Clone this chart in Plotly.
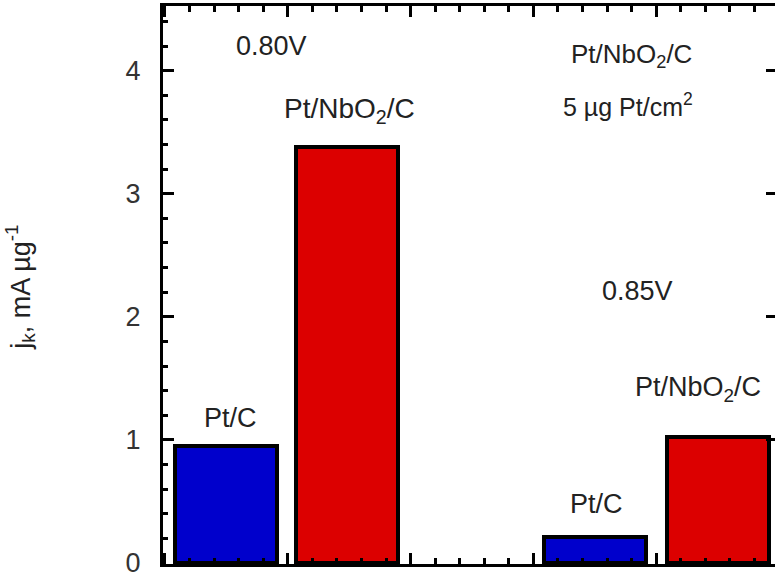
import plotly.graph_objects as go

# Data
bar_x = [0.5, 1.48, 3.5, 4.5]
bar_values = [0.95, 3.38, 0.21, 1.02]
bar_names = ["Pt/C (0.80V)", "Pt/NbO2/C (0.80V)", "Pt/C (0.85V)", "Pt/NbO2/C (0.85V)"]
bar_colors = ["#0000CC", "#DC0000", "#0000CC", "#DC0000"]
y_tick_vals = [0, 1, 2, 3, 4]
y_tick_text = ["0", "1", "2", "3", "4"]

labels_text = ["0.80V", "Pt/NbO<sub>2</sub>/C", "Pt/C", "Pt/NbO<sub>2</sub>/C",
               "5 µg Pt/cm<sup>2</sup>", "0.85V", "Pt/NbO<sub>2</sub>/C", "Pt/C"]
labels_x = [0.87, 1.50, 0.53, 3.80, 3.77, 3.85, 4.34, 3.51]
labels_y = [4.20, 3.68, 1.18, 4.12, 3.72, 2.21, 1.41, 0.48]
labels_size = [27, 28, 27, 26, 25, 27, 27, 27]

FONT = "Liberation Sans, Arial, sans-serif"
Y_RANGE = [-0.008, 4.525]

fig = go.Figure()
fig.add_trace(go.Bar(
    x=bar_x, y=bar_values, width=0.83, name="",
    marker=dict(color=bar_colors, line=dict(color="black", width=4)),
    hovertext=bar_names, showlegend=False,
))
# invisible trace to activate the right-hand tick axis
fig.add_trace(go.Scatter(x=[bar_x[0]], y=[bar_values[0]], yaxis="y2", mode="markers",
                         marker=dict(opacity=0), showlegend=False, hoverinfo="skip"))

L, R, T, B = 163, 0, 6, 12
W, H = 775, 578

minor_y = dict(ticks="inside", ticklen=5, tickwidth=3, tickcolor="black", dtick=0.2, tick0=0, showgrid=False)

fig.update_layout(
    width=W, height=H,
    margin=dict(l=L, r=R, t=T, b=B, pad=0),
    plot_bgcolor="white", paper_bgcolor="white",
    font=dict(family=FONT, color="#222"),
    bargap=0,
    xaxis=dict(
        range=[-0.016, 4.967], showgrid=False, zeroline=False,
        showline=True, linecolor="black", linewidth=3, mirror="ticks",
        ticks="inside", ticklen=11, tickwidth=3, tickcolor="black",
        tick0=0, dtick=1, showticklabels=False,
        minor=dict(ticks="inside", ticklen=6, tickwidth=3, tickcolor="black", dtick=0.2, tick0=0, showgrid=False),
    ),
    yaxis=dict(
        range=Y_RANGE, showgrid=False, zeroline=False,
        showline=True, linecolor="black", linewidth=3, mirror=False,
        ticks="inside", ticklen=11, tickwidth=3, tickcolor="black",
        tickvals=y_tick_vals, ticktext=y_tick_text,
        tickfont=dict(size=27, family=FONT, color="#333"),
        ticklabelstandoff=14, ticklabeloverflow="allow",
        minor=minor_y,
    ),
    yaxis2=dict(
        range=Y_RANGE, overlaying="y", side="right", showgrid=False, zeroline=False,
        showline=False, ticks="inside", ticklen=9, tickwidth=3, tickcolor="black",
        tickvals=y_tick_vals, showticklabels=False,
    ),
)

for t, x, y, s in zip(labels_text, labels_x, labels_y, labels_size):
    fig.add_annotation(x=x, y=y, xref="x", yref="y", text=t, showarrow=False,
                       font=dict(size=s, family=FONT, color="#222"),
                       xanchor="center", yanchor="middle")

plot_w = W - L - R
fig.add_annotation(
    x=(20 - L) / plot_w, y=0.495, xref="paper", yref="paper",
    text="j<sub>k</sub>, mA µg<sup>-1</sup>", textangle=-90, showarrow=False,
    font=dict(size=27, family=FONT, color="#222"),
    xanchor="center", yanchor="middle",
)

fig.write_html("out.html")
